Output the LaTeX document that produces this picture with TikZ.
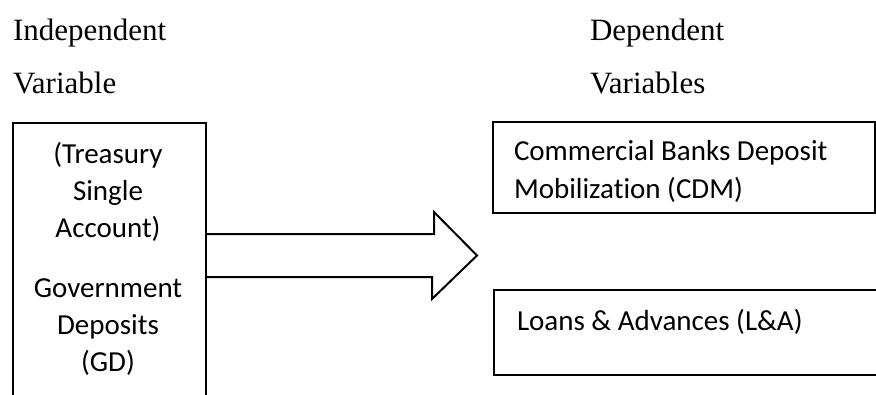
\documentclass[tikz,border=0pt]{standalone}
\usepackage{fontspec}
\setmainfont{Liberation Serif}
\newfontfamily\calfont[Ligatures=NoCommon]{Carlito}
\usetikzlibrary{positioning}

\begin{document}
\begin{tikzpicture}[x=1pt,y=-1pt,line width=2pt,
  hdr/.style={inner sep=0pt,anchor=base west,font=\fontsize{31}{37}\selectfont},
  boxtext/.style={inner sep=0pt,font=\calfont\fontsize{29}{35}\selectfont},
  varbox/.style={draw,inner sep=0pt,anchor=north west}]
\useasboundingbox (0,0) rectangle (876,394);
\clip (0,0) rectangle (876,394);

\node [hdr] (indep) at (12,40) {Independent};
\node [hdr] (indvar) at (12,93) {Variable};
\node [hdr] (dep) at (589,40) {Dependent};
\node [hdr] (depvar) at (589,93) {Variables};

% independent variable box (runs off the page)
\node [varbox,minimum width=193,minimum height=300] (tsa) at (12,122) {};
\node [boxtext,anchor=base] (tsa1) at (108,163) {(Treasury};
\node [boxtext,anchor=base] (tsa2) at (108,200) {Single};
\node [boxtext,anchor=base] (tsa3) at (108,237) {Account)};
\node [boxtext,anchor=base] (gd1) at (108,297) {Government};
\node [boxtext,anchor=base] (gd2) at (108,334) {Deposits};
\node [boxtext,anchor=base] (gd3) at (108,371) {(GD)};

% dependent variable boxes
\node [varbox,minimum width=382,minimum height=91] (cdm) at (492,121) {};
\node [boxtext,anchor=base west] (cdm1) at (513,160) {Commercial Banks Deposit};
\node [boxtext,anchor=base west] (cdm2) at (513,198) {Mobilization (CDM)};

\node [varbox,minimum width=420,minimum height=85] (la) at (493,289) {};
\node [boxtext,anchor=base west] (la1) at (516,330) {Loans \& Advances (L\&A)};

% block arrow
\coordinate (tail) at (tsa.east |- 0,255.5);
\coordinate (tip) at (477,255.5);
\draw (tail) ++(0,-21.5) -- ++(227,0) -- ++(0,-22) -- (tip)
  -- ++(-45,43.5) -- ++(0,-22) -- ++(-227,0);
\end{tikzpicture}
\end{document}
